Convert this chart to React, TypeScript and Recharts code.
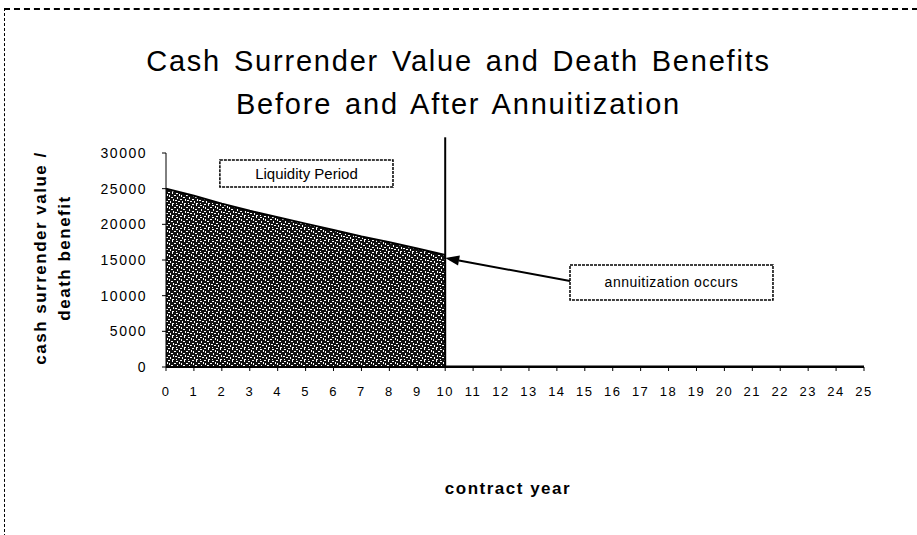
import React from 'react';
import { ComposedChart, Area, Line, XAxis, YAxis, ReferenceArea, ReferenceLine } from 'recharts';

// contract years 0..25
const years = [0, 1, 2, 3, 4, 5, 6, 7, 8, 9, 10, 11, 12, 13, 14, 15, 16, 17, 18, 19, 20, 21, 22, 23, 24, 25];
// cash surrender value / death benefit before annuitization (ends at year 10)
const cashValue = [25000, 24000, 22900, 21900, 21000, 20100, 19200, 18300, 17500, 16600, 15700,
  null, null, null, null, null, null, null, null, null, null, null, null, null, null, null];
// after annuitization the value is zero
const afterAnnuitization = [null, null, null, null, null, null, null, null, null, null,
  0, 0, 0, 0, 0, 0, 0, 0, 0, 0, 0, 0, 0, 0, 0, 0];
const yTicks = [0, 5000, 10000, 15000, 20000, 25000, 30000];

const data = years.map((year, i) => ({ year, cash: cashValue[i], after: afterAnnuitization[i] }));

const FONT = '"Liberation Sans", Arial, sans-serif';

// white specks inside the dark fill, [x, y, w, h] in a 12px tile
const specks = [
  [0, 0, 2, 1], [4, 0, 1, 2], [8, 1, 2, 1], [11, 2, 1, 2], [1, 3, 1, 2], [6, 3, 2, 1],
  [3, 5, 2, 1], [9, 5, 1, 2], [0, 7, 2, 1], [5, 7, 1, 2], [7, 8, 2, 1], [2, 9, 1, 2],
  [10, 9, 2, 1], [4, 11, 2, 1], [8, 11, 1, 1],
];

const Arrow = (p: any) => {
  const { x1, y1, x2, y2 } = p;
  const ang = Math.atan2(y2 - y1, x2 - x1);
  const len = 14;
  const w = 5;
  const bx = x2 - len * Math.cos(ang);
  const by = y2 - len * Math.sin(ang);
  const px = -Math.sin(ang) * w;
  const py = Math.cos(ang) * w;
  return (
    <g>
      <line x1={x1} y1={y1} x2={bx} y2={by} stroke="#000" strokeWidth={2} />
      <polygon points={`${x2},${y2} ${bx + px},${by + py} ${bx - px},${by - py}`} fill="#000" />
    </g>
  );
};

const YTitle = () => (
  <g fontFamily={FONT} fontSize={17} fontWeight="bold" fill="#000" letterSpacing={1.5}>
    <text transform="translate(46,258) rotate(-90)" textAnchor="middle">cash surrender value /</text>
    <text transform="translate(70,258) rotate(-90)" textAnchor="middle">death benefit</text>
  </g>
);

const XTitle = () => (
  <text x={508} y={494} textAnchor="middle" fontFamily={FONT} fontSize={17} fontWeight="bold" letterSpacing={1.5} fill="#000">
    contract year
  </text>
);

export default function App() {
  return (
    <div style={{ position: 'absolute', left: 0, top: 0, width: 917, height: 535, background: '#fff', fontFamily: FONT }}>
      <div style={{ position: 'absolute', left: 4, top: 8, width: 913, height: 527, borderTop: '2px dashed #000', borderLeft: '1px dashed #000' }} />
      <div style={{ position: 'absolute', left: 0, top: 40, width: 917, textAlign: 'center', fontSize: 29, lineHeight: '43px', letterSpacing: 1.8, wordSpacing: 3, color: '#000' }}>
        <div>Cash Surrender Value and Death Benefits</div>
        <div>Before and After Annuitization</div>
      </div>
      <div style={{ position: 'absolute', left: 0, top: 0 }}>
        <ComposedChart width={917} height={535} data={data} margin={{ top: 153, right: 53, bottom: 138, left: 106 }}>
          <defs>
            <pattern id="speckle" width="12" height="12" patternUnits="userSpaceOnUse">
              <rect width="12" height="12" fill="#111" />
              {specks.map(([x, y, w, h], i) => (
                <rect key={i} x={x} y={y} width={w} height={h} fill="#fff" />
              ))}
            </pattern>
          </defs>
          <XAxis
            dataKey="year"
            type="number"
            domain={[0, 25]}
            ticks={years}
            interval={0}
            height={30}
            axisLine={{ stroke: '#000', strokeWidth: 2 }}
            tickLine={{ stroke: '#000' }}
            tickSize={4}
            tickMargin={16}
            tick={{ fill: '#000', fontSize: 13, fontFamily: FONT, letterSpacing: 1.5 }}
            label={<XTitle />}
          />
          <YAxis
            type="number"
            domain={[0, 30000]}
            ticks={yTicks}
            allowDataOverflow
            width={60}
            axisLine={{ stroke: '#000', strokeWidth: 1 }}
            tickLine={{ stroke: '#000' }}
            tickSize={4}
            tickMargin={15}
            tick={{ fill: '#000', fontSize: 14, fontFamily: FONT, letterSpacing: 1.5 }}
            label={<YTitle />}
          />
          <Area
            type="linear"
            dataKey="cash"
            stroke="#000"
            strokeWidth={2}
            fill="url(#speckle)"
            fillOpacity={1}
            isAnimationActive={false}
          />
          <Line
            type="linear"
            dataKey="after"
            stroke="#000"
            strokeWidth={3}
            dot={false}
            isAnimationActive={false}
          />
          <ReferenceLine
            segment={[{ x: 10, y: 0 }, { x: 10, y: 32200 }]}
            stroke="#000"
            strokeWidth={2}
            ifOverflow="visible"
          />
          <ReferenceArea
            x1={1.93}
            x2={8.13}
            y1={25234}
            y2={29019}
            fill="#fff"
            fillOpacity={1}
            stroke="#000"
            strokeWidth={1.5}
            strokeDasharray="3 1"
            ifOverflow="visible"
            label={{ value: 'Liquidity Period', position: 'center', fill: '#000', fontSize: 15, fontFamily: FONT }}
          />
          <ReferenceArea
            x1={14.47}
            x2={21.74}
            y1={9393}
            y2={14299}
            fill="#fff"
            fillOpacity={1}
            stroke="#000"
            strokeWidth={1.5}
            strokeDasharray="3 1"
            ifOverflow="visible"
            label={{ value: 'annuitization occurs', position: 'center', fill: '#000', fontSize: 14, fontFamily: FONT, letterSpacing: 0.5 }}
          />
          <ReferenceLine
            segment={[{ x: 14.47, y: 12056 }, { x: 10, y: 15280 }]}
            ifOverflow="visible"
            shape={<Arrow />}
          />
        </ComposedChart>
      </div>
    </div>
  );
}
